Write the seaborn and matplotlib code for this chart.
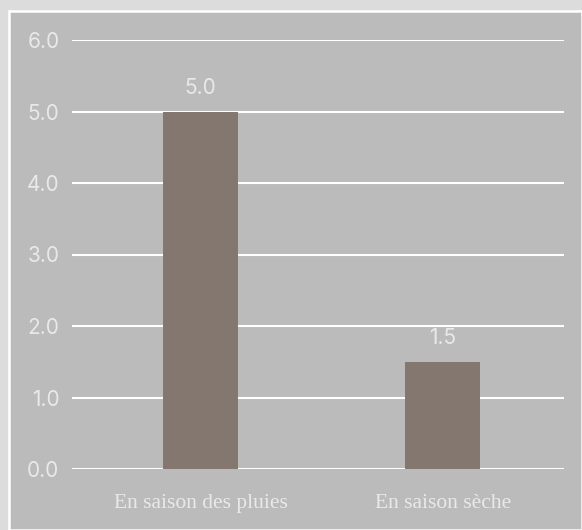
import matplotlib
matplotlib.use("Agg")
import matplotlib.pyplot as plt
import matplotlib.patches as mpatches
import seaborn as sns
import pandas as pd

categories = ["En saison des pluies", "En saison sèche"]
values = [5.0, 1.5]
yticks = [0, 1, 2, 3, 4, 5, 6]

df = pd.DataFrame({"cat": categories, "val": values})

sns.set_style("white")
txt = "#e9e9e9"

fig = plt.figure(figsize=(5.82, 5.30), dpi=100)
fig.patch.set_facecolor("#dcdcdc")
W, H = 582, 530
panel = mpatches.Rectangle((9 / W, 0), 1 - 9 / W, 1 - 11 / H, transform=fig.transFigure,
                           facecolor="#bbbbbb", edgecolor="white", linewidth=1.8, zorder=-10)
fig.patches.append(panel)

ax = fig.add_axes([72 / W, 1 - 469 / H, (564 - 72) / W, (469 - 40) / H])
ax.set_facecolor("none")

sns.barplot(data=df, x="cat", y="val", color="#83776f", width=0.31, ax=ax,
            saturation=1, linewidth=0, zorder=3)

ax.set_ylim(0, 6)
ax.set_xlim(-0.53, 1.5)
ax.set_yticks(yticks)
ax.set_yticklabels([f"{t:.1f}" for t in yticks], family="Inter",
                   fontsize=15, color=txt)
ax.set_xticklabels(categories, family="Liberation Serif", fontsize=15.5, color=txt)
ax.tick_params(axis="both", length=0)
ax.tick_params(axis="y", pad=9)
ax.tick_params(axis="x", pad=18)
ax.yaxis.grid(True, color="white", linewidth=1.5, zorder=1)
ax.set_axisbelow(True)
for s in ax.spines.values():
    s.set_visible(False)
ax.set_xlabel("")
ax.set_ylabel("")

for i, v in enumerate(values):
    ax.text(i, v + 0.19, f"{v:.1f}", ha="center", va="bottom", family="Inter",
            fontsize=15, color=txt)

fig.savefig("out.png", dpi=100, facecolor=fig.get_facecolor())
